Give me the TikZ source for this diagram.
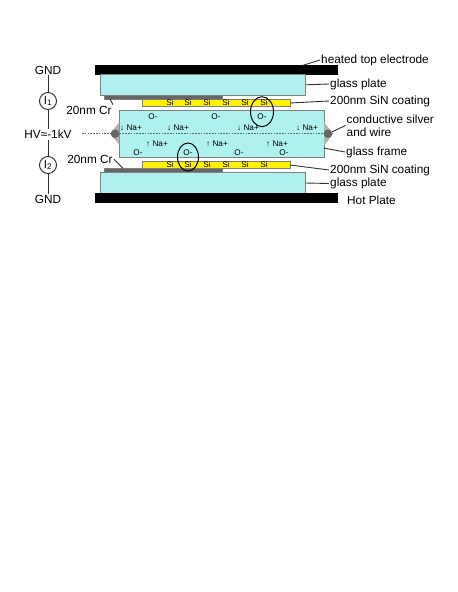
\documentclass[tikz,border=0pt]{standalone}
\usepackage{fontspec}
\setmainfont{Liberation Sans}
\usetikzlibrary{shapes.geometric}
\definecolor{glasscyan}{HTML}{AFF1EF}
\definecolor{crgray}{HTML}{666666}
\tikzset{
  layer/.style={draw=gray,line width=0.7pt,inner sep=0pt,outer sep=0pt},
  lbl/.style={font=\fontsize{11.8}{13.4}\selectfont,inner sep=1pt},
  ion/.style={font=\fontsize{8.2}{9}\selectfont,inner sep=0pt},
  leader/.style={line width=0.9pt,black!80},
  meter/.style={circle,draw=black!85,line width=0.9pt,fill=white,minimum size=17pt,inner sep=0pt,font=\fontsize{11.5}{12}\selectfont}
}
\begin{document}
\begin{tikzpicture}[x=1pt,y=-1pt]
  \useasboundingbox (0,0) rectangle (458,592);
  % plates
  \node[layer,fill=black,draw=black,minimum width=242.7pt,minimum height=9pt] (elec) at (216.3,70) {};
  \node[layer,fill=glasscyan,minimum width=205.7pt,minimum height=21pt] (glass1) at (202.9,84.8) {};
  \node[layer,fill=crgray,minimum width=118.7pt,minimum height=3.7pt] (cr1) at (163.3,97.2) {};
  \node[layer,fill=yellow,minimum width=147.3pt,minimum height=7.4pt] (sin1) at (216.4,103) {};
  \node[layer,fill=yellow,minimum width=147.3pt,minimum height=6.8pt] (sin2) at (216.4,165) {};
  \node[layer,fill=crgray,minimum width=118.7pt,minimum height=4.2pt] (cr2) at (163.3,170.6) {};
  \node[layer,fill=glasscyan,minimum width=205.7pt,minimum height=20.6pt] (glass2) at (202.9,183) {};
  \node[layer,fill=black,draw=black,minimum width=242.7pt,minimum height=9.4pt] (hotplate) at (216.3,198) {};
  % silver and frame
  \node[layer,fill=glasscyan,minimum width=204.7pt,minimum height=47.3pt] (frame) at (221.6,133.7) {};
  \fill[gray!60] (119.3,122) -- (110.5,133.7) -- (119.3,145) -- cycle;
  \fill[gray!60] (324,122) -- (333,133.7) -- (324,146) -- cycle;
  \coordinate (wireend) at (82,133.7);
  \node[circle,fill=crgray,minimum size=8.6pt,inner sep=0pt] (silverL) at (115,133.7) {};
  \node[circle,fill=crgray,minimum size=8.6pt,inner sep=0pt] (silverR) at (328,133.7) {};
  \draw[line width=0.5pt,black!60,dash pattern=on 1.6pt off 1.2pt] (wireend) -- (silverL) -- (silverR);
  % top Si
  \node[ion] (s1) at (170,103) {Si};
  \node[ion] (s2) at (188,103) {Si};
  \node[ion] (s3) at (207,103) {Si};
  \node[ion] (s4) at (226,103) {Si};
  \node[ion] (s5) at (245,103) {Si};
  \node[ion] (s6) at (264,103) {Si};
  % bottom Si
  \node[ion] (s7) at (170,165) {Si};
  \node[ion] (s8) at (188,165) {Si};
  \node[ion] (s9) at (207,165) {Si};
  \node[ion] (s10) at (226,165) {Si};
  \node[ion] (s11) at (245,165) {Si};
  \node[ion] (s12) at (264,165) {Si};
  % ions
  \node[ion] (o1) at (153,117) {O-};
  \node[ion] (o2) at (216,117) {O-};
  \node[ion] (o3) at (262,117) {O-};
  \node[ion] (o4) at (138,153) {O-};
  \node[ion] (o5) at (188,153) {O-};
  \node[ion] (o6) at (239,153) {O-};
  \node[ion] (o7) at (284,153) {O-};
  \node[ion] (na1) at (131,127.7) {↓ Na+};
  \node[ion] (na2) at (178,127.7) {↓ Na+};
  \node[ion] (na3) at (248,127.7) {↓ Na+};
  \node[ion] (na4) at (307,127.7) {↓ Na+};
  \node[ion] (na5) at (157,143.7) {↑ Na+};
  \node[ion] (na6) at (217,143.7) {↑ Na+};
  \node[ion] (na7) at (277,143.7) {↑ Na+};
  \node[ellipse,draw=black,line width=1pt,minimum width=21pt,minimum height=28pt,inner sep=0pt] (ring1) at (188,157) {};
  \node[ellipse,draw=black,line width=1pt,minimum width=23pt,minimum height=30pt,inner sep=0pt] (ring2) at (262,111.7) {};
  % circuit
  \node[lbl] (gnd1) at (48,70) {GND};
  \node[meter] (i1) at (48,101) {I\textsubscript{1}};
  \node[lbl] (hv) at (48,134.5) {HV≈-1kV};
  \node[meter] (i2) at (48,165) {I\textsubscript{2}};
  \node[lbl] (gnd2) at (48,199) {GND};
  \draw[leader] (gnd1) -- (i1);
  \draw[leader] (i1) -- (hv);
  \draw[leader] (hv) -- (i2);
  \draw[leader] (i2) -- (gnd2);
  % labels
  \node[lbl,anchor=west] (l1) at (320,60) {heated top electrode};
  \node[lbl,anchor=west] (l2) at (329,84) {glass plate};
  \node[lbl,anchor=west] (l3) at (329,101) {200nm SiN coating};
  \node[lbl,anchor=west,align=left] (l4) at (345.5,125.5) {conductive silver\\and wire};
  \node[lbl,anchor=west] (l5) at (345,152) {glass frame};
  \node[lbl,anchor=west] (l6) at (329,170) {200nm SiN coating};
  \node[lbl,anchor=west] (l7) at (329,183.5) {glass plate};
  \node[lbl,anchor=west] (l8) at (346,200) {Hot Plate};
  \node[lbl] (cr1lbl) at (89,110) {20nm Cr};
  \node[lbl] (cr2lbl) at (90,159) {20nm Cr};
  \draw[leader] (l1.west) -- (elec.3.5);
  \draw[leader] (l2.west) -- (glass1.east);
  \draw[leader] (l3.west) -- (sin1.east);
  \draw[leader] (l4.west) -- (silverR);
  \draw[leader] (l5.west) -- (frame.-8);
  \draw[leader] (l6.west) -- (sin2.east);
  \draw[leader] (l7.west) -- (glass2.east);
  \draw[leader] (cr1lbl.north east) -- (cr1.182.2);
  \draw[leader] (cr2lbl.east) -- (cr2.177.8);
\end{tikzpicture}
\end{document}
